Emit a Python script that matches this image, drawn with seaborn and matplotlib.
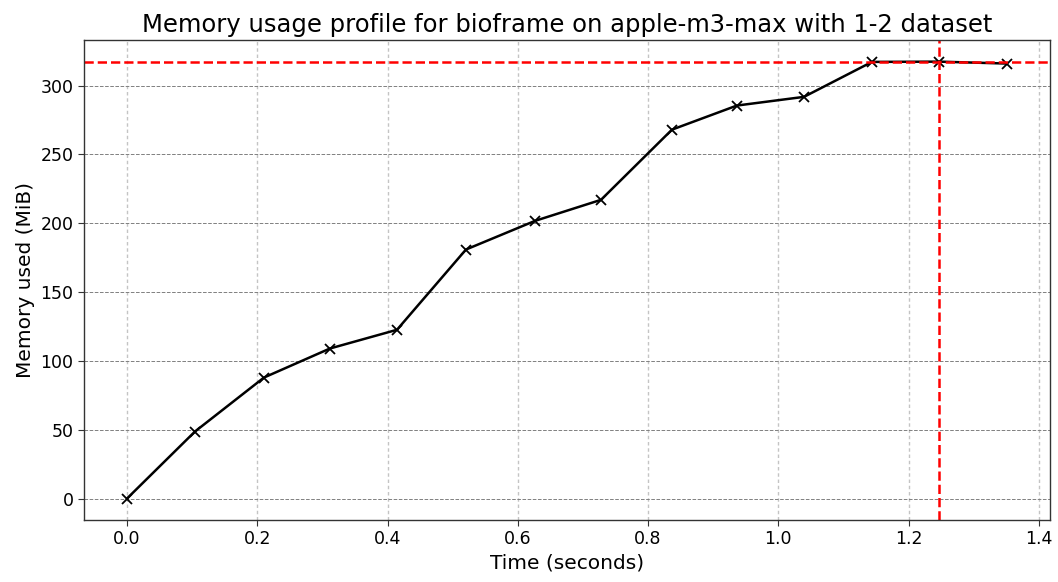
import matplotlib
matplotlib.use("Agg")
import matplotlib.pyplot as plt
import seaborn as sns
import numpy as np
import pandas as pd

times = [0.0, 0.1044, 0.2103, 0.3116, 0.4145, 0.5204, 0.6263, 0.7277,
         0.8367, 0.9364, 1.0393, 1.1437, 1.2470, 1.3510]
memory = [0.0, 48.7, 87.9, 109.0, 122.6, 180.9, 201.7, 217.0,
          268.0, 285.5, 291.8, 317.2, 317.4, 316.0]

title = "Memory usage profile for bioframe on apple-m3-max with 1-2 dataset"

df = pd.DataFrame({"time": times, "memory": memory})

sns.set_style("ticks")
plt.rcParams['font.family'] = ['DejaVu Sans']

fig, ax = plt.subplots(figsize=(10.58, 5.82), dpi=100)
sns.lineplot(data=df, x="time", y="memory", ax=ax, color="black",
             marker="x", markersize=7.5, markeredgewidth=1.3, markeredgecolor="black",
             linewidth=1.8)

imax = int(np.argmax(memory))
ax.axhline(memory[imax], color="red", linestyle="--", linewidth=1.8)
ax.axvline(times[imax], color="red", linestyle="--", linewidth=1.8)

ax.set_xlim(-0.066, 1.417)
ax.set_ylim(-15.6, 333)
ax.set_xticks([0.0, 0.2, 0.4, 0.6, 0.8, 1.0, 1.2, 1.4])
ax.set_yticks([0, 50, 100, 150, 200, 250, 300])
ax.xaxis.grid(True, color="#c4c4c4", linestyle=(0, (2.5, 2)), linewidth=1.0)
ax.yaxis.grid(True, color="#808080", linestyle="--", linewidth=0.7)
ax.set_axisbelow(True)

for s in ax.spines.values():
    s.set_color("#333333")
    s.set_linewidth(1.0)
ax.tick_params(axis="both", labelsize=12.5, colors="#333333", labelcolor="black", length=4)

ax.set_xlabel("Time (seconds)", fontsize=14.5, color="black")
ax.set_ylabel("Memory used (MiB)", fontsize=14.5, color="black")
ax.set_title(title, fontsize=17.5, color="black")

fig.subplots_adjust(left=0.0794, right=0.9924, top=0.931, bottom=0.1065)
fig.savefig("out.png", dpi=100)
